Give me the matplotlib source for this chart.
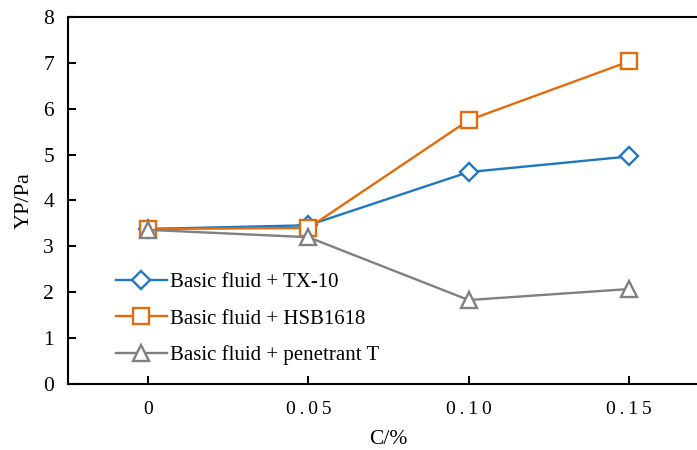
import numpy as np
import matplotlib.pyplot as plt

plt.rcParams['font.family'] = ['Liberation Serif', 'DejaVu Serif']

concentration = ['0', '0.05', '0.10', '0.15']
yp_tx10 = [3.38, 3.46, 4.62, 4.96]
yp_hsb1618 = [3.38, 3.40, 5.75, 7.03]
yp_penetrant = [3.36, 3.20, 1.83, 2.07]

fig = plt.figure(figsize=(6.97, 4.5), dpi=100)
# right edge runs past the figure, so the right spine is cut off
ax = fig.add_axes([68 / 697, 66 / 450, 641 / 697, 367 / 450])

x = np.arange(len(concentration))
ax.plot(x, yp_tx10, color='#1f78bf', lw=1.7, marker='D', ms=9,
        mfc='white', mew=1.7, label='Basic fluid + TX-10')
ax.plot(x, yp_hsb1618, color='#e36c0a', lw=1.7, marker='s', ms=11.5,
        mfc='white', mew=1.7, label='Basic fluid + HSB1618')
ax.plot(x, yp_penetrant, color='#808080', lw=1.7, marker='^', ms=12,
        mfc='white', mew=1.7, label='Basic fluid + penetrant T')

# spaced-out tick text
spaced = ['\u2009'.join(c) for c in concentration]

ax.set_xlim(-0.5, 3.5)
ax.set_ylim(0, 8)
ax.set_xticks(x)
ax.set_xticklabels(spaced)
ax.set_yticks(range(0, 9))
ax.tick_params(axis='both', direction='in', length=6, width=1.5)
ax.tick_params(axis='x', labelsize=14, pad=12)
ax.tick_params(axis='y', labelsize=15.5, pad=10)
for s in ax.spines.values():
    s.set_linewidth(1.5)

ax.set_xlabel('C/%', fontsize=15.5, labelpad=9)
ax.set_ylabel('YP/Pa', fontsize=16, labelpad=7)

ax.legend(loc='lower left', bbox_to_anchor=(0.045, 0.0), frameon=False,
          fontsize=15, handlelength=2.45, labelspacing=0.8, handletextpad=0.15)

fig.savefig('out.png', dpi=100)
